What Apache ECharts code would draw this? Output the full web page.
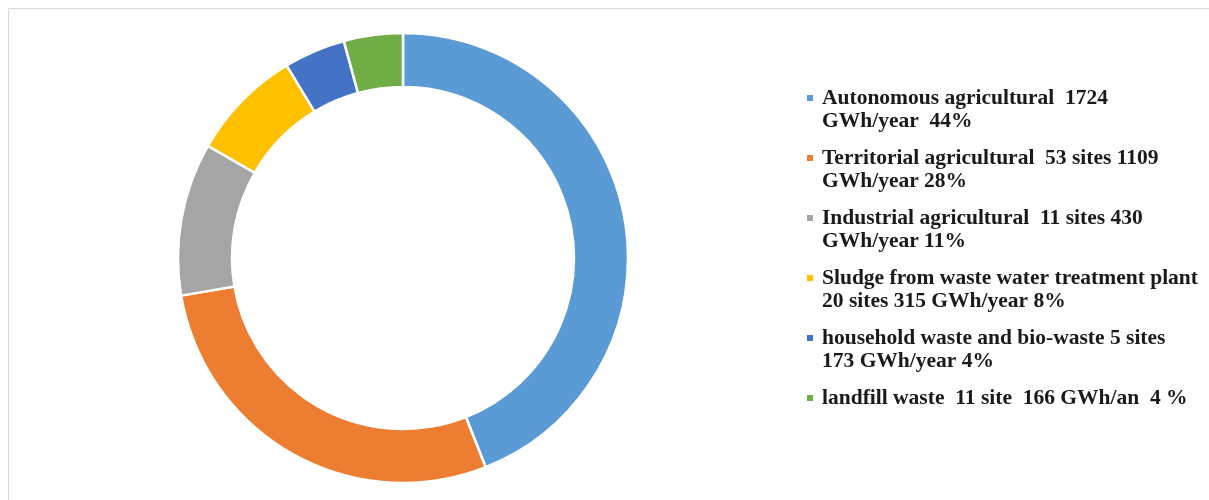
<!DOCTYPE html>
<html>
<head>
<meta charset="utf-8">
<script src="https://cdn.jsdelivr.net/npm/echarts@6/dist/echarts.min.js"></script>
<style>
  html, body { margin: 0; padding: 0; background: #ffffff; }
  #chart { width: 1209px; height: 500px; }
</style>
</head>
<body>
<div id="chart"></div>
<script>
// Biogas production by source (GWh/year)
const legendLines = [
  ['Autonomous agricultural  1724', 'GWh/year  44%'],
  ['Territorial agricultural  53 sites 1109', 'GWh/year 28%'],
  ['Industrial agricultural  11 sites 430', 'GWh/year 11%'],
  ['Sludge from waste water treatment plant', '20 sites 315 GWh/year 8%'],
  ['household waste and bio-waste 5 sites', '173 GWh/year 4%'],
  ['landfill waste  11 site  166 GWh/an  4 %']
];
const categories = legendLines.map(l => l.join(' '));
const values = [1724, 1109, 430, 315, 173, 166];
const colors = ['#5B9BD5', '#ED7D31', '#A5A5A5', '#FFC000', '#4472C4', '#70AD47'];

const chart = echarts.init(document.getElementById('chart'), null, { renderer: 'canvas' });

const lineOf = {};
categories.forEach((c, i) => { lineOf[c] = legendLines[i]; });

// Legend text is centred on its marker; a blank first line keeps the
// marker beside the first text line, and a blank last line pads
// single-line entries to the same height.
function legendText(name) {
  const lines = lineOf[name];
  return lines.length > 1 ? '\n' + lines.join('\n') : '\n' + lines[0] + '\n';
}

chart.setOption({
  animation: false,
  color: colors,
  graphic: [{
    type: 'rect',
    silent: true,
    shape: { x: 8.5, y: 8.5, width: 1400, height: 700 },
    style: { fill: 'none', stroke: '#d9d9d9', lineWidth: 1 }
  }],
  legend: {
    orient: 'vertical',
    left: 807,
    top: 63.5,
    padding: 0,
    icon: 'rect',
    itemWidth: 6,
    itemHeight: 6,
    itemGap: -9,
    selectedMode: false,
    itemStyle: { borderWidth: 0 },
    data: categories,
    formatter: legendText,
    textStyle: {
      fontFamily: '"Liberation Serif", "Times New Roman", serif',
      fontWeight: 'bold',
      fontSize: 21.5,
      lineHeight: 23,
      padding: [0, 0, 0, 4],
      color: '#1a1a1a'
    }
  },
  series: [{
    type: 'pie',
    center: [403, 258],
    radius: [171, 225],
    startAngle: 90,
    clockwise: true,
    avoidLabelOverlap: false,
    label: { show: false },
    labelLine: { show: false },
    emphasis: { disabled: true },
    itemStyle: { borderColor: '#ffffff', borderWidth: 2.5 },
    data: categories.map((c, i) => ({ name: c, value: values[i] }))
  }]
});
</script>
</body>
</html>
